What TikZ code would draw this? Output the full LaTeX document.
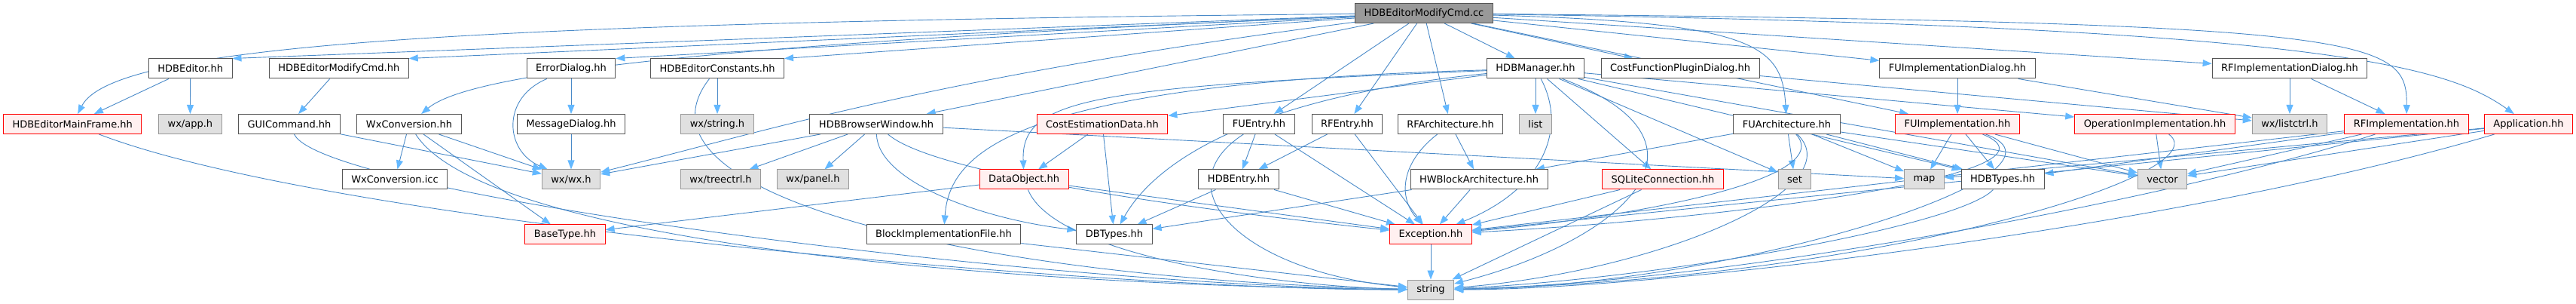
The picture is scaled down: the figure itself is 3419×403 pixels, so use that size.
\documentclass[tikz,border=0pt]{standalone}
\usepackage{fontspec}
\setmainfont{DejaVu Sans}
\usetikzlibrary{arrows.meta}
\definecolor{dxline}{HTML}{555555}
\definecolor{dxroot}{HTML}{999999}
\definecolor{dxpink}{HTML}{FFF0F0}
\definecolor{dxext}{HTML}{E0E0E0}
\definecolor{dxextline}{HTML}{999999}
\definecolor{dxedge}{HTML}{4A8AC8}
\definecolor{dxtip}{HTML}{63B8FF}
\pgfdeclarelayer{edges}
\pgfsetlayers{edges,main}
\tikzset{
  dx node/.style={draw=dxline, fill=white, line width=1pt, minimum height=26pt,
    inner xsep=12pt, inner ysep=0pt, font=\fontsize{13}{15}\selectfont},
  dx root/.style={dx node, fill=dxroot},
  dx trunc/.style={dx node, draw=red, fill=dxpink},
  dx ext/.style={dx node, draw=dxextline, fill=dxext},
  dx dep/.style={draw=dxedge, line width=0.9pt,
    -{Triangle[length=12pt,width=9pt,color=dxtip]}}
}
\begin{document}
\begin{tikzpicture}[x=1pt, y=-1pt]
  \useasboundingbox (0,0) rectangle (3419,403);
  % rows of headers
  \node[dx root] (cc) at (1890,17.5) {HDBEditorModifyCmd.cc};

  \node[dx node] (edt) at (252.7,91) {HDBEditor.hh};
  \node[dx node] (emc) at (449.8,91) {HDBEditorModifyCmd.hh};
  \node[dx node] (err) at (758,91) {ErrorDialog.hh};
  \node[dx node] (ecn) at (952,91) {HDBEditorConstants.hh};
  \node[dx node] (mgr) at (2038,91) {HDBManager.hh};
  \node[dx node] (cfp) at (2230,91) {CostFunctionPluginDialog.hh};
  \node[dx node] (fud) at (2598,91) {FUImplementationDialog.hh};
  \node[dx node] (rfd) at (3039,91) {RFImplementationDialog.hh};

  \node[dx trunc] (emf) at (96.2,164.5) {HDBEditorMainFrame.hh};
  \node[dx ext] (app) at (252.4,164.5) {wx/app.h};
  \node[dx node] (gui) at (384,164.5) {GUICommand.hh};
  \node[dx node] (wxc) at (543,164.5) {WxConversion.hh};
  \node[dx node] (msg) at (758,164.5) {MessageDialog.hh};
  \node[dx ext] (wxs) at (952,164.5) {wx/string.h};
  \node[dx node] (hbw) at (1163,164.5) {HDBBrowserWindow.hh};
  \node[dx trunc] (ced) at (1463,164.5) {CostEstimationData.hh};
  \node[dx node] (fue) at (1671,164.5) {FUEntry.hh};
  \node[dx node] (rfe) at (1788,164.5) {RFEntry.hh};
  \node[dx node] (rfa) at (1925,164.5) {RFArchitecture.hh};
  \node[dx ext] (lst) at (2038,164.5) {list};
  \node[dx node] (fua) at (2371.5,164.5) {FUArchitecture.hh};
  \node[dx trunc] (fui) at (2598,164.5) {FUImplementation.hh};
  \node[dx trunc] (opi) at (2860,164.5) {OperationImplementation.hh};
  \node[dx ext] (wlc) at (3039,164.5) {wx/listctrl.h};
  \node[dx trunc] (rfi) at (3194,164.5) {RFImplementation.hh};
  \node[dx trunc] (apl) at (3356,164.5) {Application.hh};

  \node[dx node] (icc) at (524,238) {WxConversion.icc};
  \node[dx ext] (wxw) at (758,238) {wx/wx.h};
  \node[dx ext] (wtc) at (956.5,238) {wx/treectrl.h};
  \node[dx ext] (wpn) at (1079,238) {wx/panel.h};
  \node[dx trunc] (dob) at (1359,238) {DataObject.hh};
  \node[dx node] (hde) at (1644,238) {HDBEntry.hh};
  \node[dx node] (hwb) at (1963,238) {HWBlockArchitecture.hh};
  \node[dx trunc] (sql) at (2207,238) {SQLiteConnection.hh};
  \node[dx ext] (set) at (2382,238) {set};
  \node[dx ext] (map) at (2554,238) {map};
  \node[dx node] (hdt) at (2658,238) {HDBTypes.hh};
  \node[dx ext] (vec) at (2870,238) {vector};

  \node[dx trunc] (bty) at (750,311) {BaseType.hh};
  \node[dx node] (bif) at (1252.5,311) {BlockImplementationFile.hh};
  \node[dx node] (dbt) at (1479,311) {DBTypes.hh};
  \node[dx trunc] (exc) at (1899,311) {Exception.hh};

  \node[dx ext] (str) at (1899,384) {string};

  \begin{pgfonlayer}{edges}
  % includes of the source file
  \draw[dx dep] (cc) .. controls (600,30) and (150,60) .. (emf);
  \draw[dx dep] (cc) -- (edt.north east);
  \draw[dx dep] (cc) -- (emc.north east);
  \draw[dx dep] (cc) -- (err.north east);
  \draw[dx dep] (cc) -- (ecn.north east);
  \draw[dx dep] (cc) .. controls (900,60) and (620,100) .. (wxc);
  \draw[dx dep] (cc) .. controls (1250,100) and (1030,170) .. (wxw);
  \draw[dx dep] (cc) -- (hbw);
  \draw[dx dep] (cc) -- (fue);
  \draw[dx dep] (cc) -- (rfe);
  \draw[dx dep] (cc) -- (rfa);
  \draw[dx dep] (cc) -- (mgr);
  \draw[dx dep] (cc) -- (cfp);
  \draw[dx dep] (cc) .. controls (2330,30) and (2365,60) .. (fua);
  \draw[dx dep] (cc) -- (fud);
  \draw[dx dep] (cc) -- (fui);
  \draw[dx dep] (cc) -- (rfd);
  \draw[dx dep] (cc) .. controls (3150,30) and (3195,50) .. (rfi);
  \draw[dx dep] (cc) .. controls (3100,35) and (3250,90) .. (apl);

  % left part
  \draw[dx dep] (edt) -- (emf);
  \draw[dx dep] (edt) -- (app);
  \draw[dx dep] (emc) -- (gui);
  \draw[dx dep] (gui) -- (wxw);
  \draw[dx dep] (wxc) -- (icc);
  \draw[dx dep] (wxc) -- (wxw);
  \draw[dx dep] (wxc) -- (bty);
  \draw[dx dep] (err) -- (msg);
  \draw[dx dep] (err) .. controls (665,130) and (670,200) .. (wxw);
  \draw[dx dep] (msg) -- (wxw);
  \draw[dx dep] (ecn) -- (wxs);
  \draw[dx dep] (emf) .. controls (450,300) and (1500,385) .. (str);
  \draw[dx dep] (gui) .. controls (430,260) and (1400,380) .. (str);
  \draw[dx dep] (wxc) .. controls (650,330) and (1400,380) .. (str);
  \draw[dx dep] (ecn) .. controls (820,260) and (1300,370) .. (str);

  % browser window and manager
  \draw[dx dep] (hbw) -- (wxw);
  \draw[dx dep] (hbw) -- (wtc);
  \draw[dx dep] (hbw) -- (wpn);
  \draw[dx dep] (hbw) .. controls (1165,240) and (1300,290) .. (dbt);
  \draw[dx dep] (hbw) .. controls (1250,240) and (1700,290) .. (exc);
  \draw[dx dep] (hbw) -- (map);
  \draw[dx dep] (mgr) -- (ced);
  \draw[dx dep] (mgr) .. controls (1450,115) and (1355,130) .. (dob);
  \draw[dx dep] (mgr) .. controls (1350,110) and (1260,200) .. (bif);
  \draw[dx dep] (mgr) .. controls (1650,130) and (1530,220) .. (dbt);
  \draw[dx dep] (mgr) -- (lst);
  \draw[dx dep] (mgr) .. controls (2080,170) and (2050,250) .. (exc);
  \draw[dx dep] (mgr) -- (sql);
  \draw[dx dep] (mgr) .. controls (2300,190) and (2150,320) .. (str);
  \draw[dx dep] (mgr) -- (set);
  \draw[dx dep] (mgr) -- (hdt);
  \draw[dx dep] (mgr) -- (vec);
  \draw[dx dep] (mgr) -- (opi);
  \draw[dx dep] (cfp) -- (wlc);
  \draw[dx dep] (fud) -- (fui);
  \draw[dx dep] (fud) -- (wlc);
  \draw[dx dep] (rfd) -- (wlc);
  \draw[dx dep] (rfd) -- (rfi);

  % data classes
  \draw[dx dep] (ced) -- (dob);
  \draw[dx dep] (ced) -- (dbt);
  \draw[dx dep] (dob) -- (bty);
  \draw[dx dep] (dob) -- (exc);
  \draw[dx dep] (dob) .. controls (1400,340) and (1700,380) .. (str);
  \draw[dx dep] (bif) -- (str);
  \draw[dx dep] (fue) -- (hde);
  \draw[dx dep] (fue) -- (exc);
  \draw[dx dep] (fue) .. controls (1540,250) and (1650,360) .. (str);
  \draw[dx dep] (rfe) -- (hde);
  \draw[dx dep] (rfe) -- (exc);
  \draw[dx dep] (rfa) .. controls (1860,215) and (1855,260) .. (exc);
  \draw[dx dep] (rfa) -- (hwb);
  \draw[dx dep] (hde) -- (dbt);
  \draw[dx dep] (hde) -- (exc);
  \draw[dx dep] (hwb) -- (exc);
  \draw[dx dep] (hwb) -- (dbt);
  \draw[dx dep] (sql) -- (exc);
  \draw[dx dep] (sql) -- (str);
  \draw[dx dep] (exc) -- (str);

  % architecture and implementation
  \draw[dx dep] (fua) -- (hwb);
  \draw[dx dep] (fua) -- (set);
  \draw[dx dep] (fua) -- (map);
  \draw[dx dep] (fua) -- (hdt);
  \draw[dx dep] (fua) -- (vec);
  \draw[dx dep] (fua) .. controls (2440,240) and (2150,290) .. (exc);
  \draw[dx dep] (fua) .. controls (2460,250) and (2200,360) .. (str);
  \draw[dx dep] (fui) -- (map);
  \draw[dx dep] (fui) -- (hdt);
  \draw[dx dep] (fui) -- (vec);
  \draw[dx dep] (fui) .. controls (2760,230) and (2300,290) .. (exc);
  \draw[dx dep] (fui) .. controls (2780,230) and (2300,380) .. (str);
  \draw[dx dep] (opi) -- (vec);
  \draw[dx dep] (opi) .. controls (2950,230) and (2500,370) .. (str);
  \draw[dx dep] (hdt) .. controls (2600,300) and (2200,370) .. (str);
  \draw[dx dep] (rfi) -- (hdt);
  \draw[dx dep] (rfi) -- (vec);
  \draw[dx dep] (rfi) -- (exc);
  \draw[dx dep] (rfi) .. controls (2900,260) and (2300,375) .. (str);
  \draw[dx dep] (apl) -- (map);
  \draw[dx dep] (apl) -- (vec);
  \draw[dx dep] (apl) -- (exc);
  \draw[dx dep] (apl) .. controls (2900,300) and (2200,384) .. (str);
  \end{pgfonlayer}
\end{tikzpicture}
\end{document}
